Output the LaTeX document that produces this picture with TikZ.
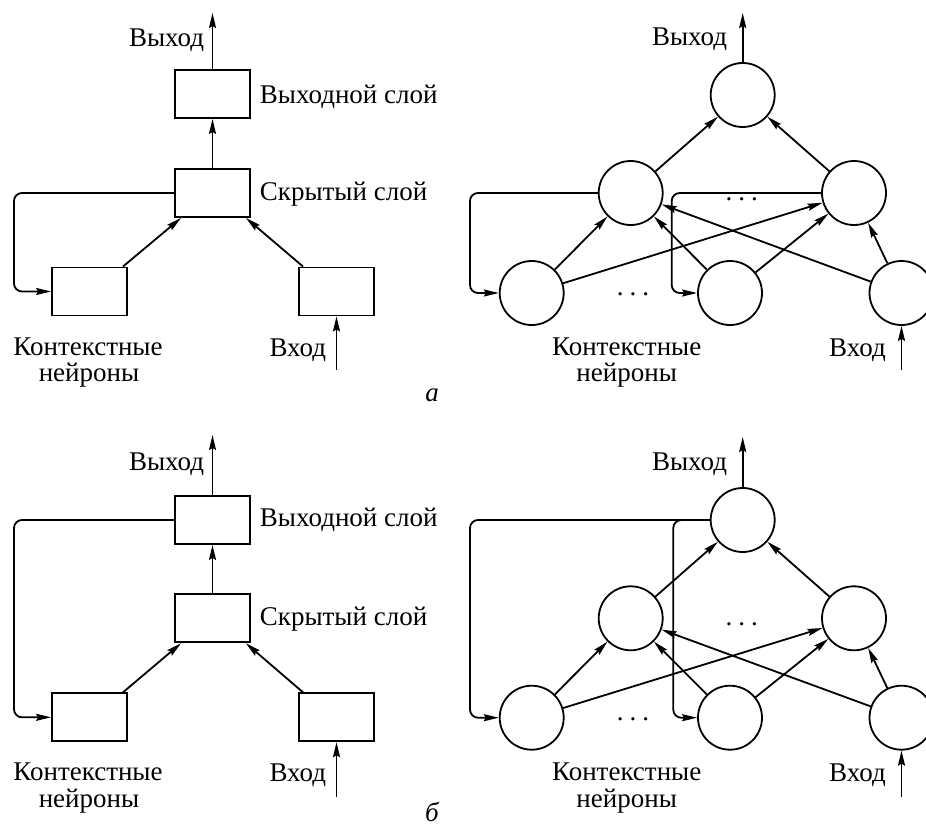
\documentclass[tikz,border=0pt]{standalone}
\usepackage{fontspec}
\setmainfont{Liberation Serif}
\usetikzlibrary{arrows.meta,calc}
\begin{document}
\begin{tikzpicture}[x=1pt,y=-1pt, line width=1.8pt,
  arr/.style={-{Stealth[length=15pt,width=7pt,inset=2pt]}},
  fb/.style={arr, rounded corners=8pt},
  box/.style={draw, minimum width=75pt, minimum height=48pt, inner sep=0pt},
  neu/.style={draw, circle, minimum size=64pt, inner sep=0pt},
  lbl/.style={font=\fontsize{27}{30}\selectfont, inner sep=0pt},
  dotsl/.style={font=\fontsize{27}{30}\selectfont, inner sep=0pt, anchor=base},
  figcap/.style={font=\fontsize{27}{30}\selectfont\itshape, inner sep=0pt, anchor=base}]
\useasboundingbox (0,0) rectangle (926,827);

% ---------- panel a, left ----------
\node[box] (boA) at (212.5,94) {};
\node[box] (bhA) at (212.5,193) {};
\node[box] (bcA) at (89.5,291.5) {};
\node[box] (biA) at (336.5,291.5) {};
\coordinate (oA) at (212.5,13);
\coordinate (iA) at (336.5,370);
\coordinate (fA) at (14,193);
\draw[arr] (boA.north) -- (oA);
\draw[arr] (bhA.north) -- (boA.south);
\draw[arr] ([xshift=-5pt]bcA.north east) -- ([xshift=7pt]bhA.south west);
\draw[arr] ([xshift=5pt]biA.north west) -- ([xshift=-5pt]bhA.south east);
\draw[arr] (iA) -- (biA.south);
\draw[fb] (bhA.west) -| (fA |- bcA.west) -- (bcA.west);
\node[lbl, anchor=base east] (tOutA) at (205,46.7) {Выход};
\node[lbl, anchor=base west] (tLayOA) at (259,103) {Выходной слой};
\node[lbl, anchor=base west] (tLayHA) at (259,200) {Скрытый слой};
\node[lbl, anchor=base east] (tInA) at (327,356) {Вход};
\node[lbl, anchor=base] (tCtxA1) at (88,355) {Контекстные};
\node[lbl, anchor=base] (tCtxA2) at (89,381) {нейроны};
\node[figcap] (capA) at (432,401) {а};

% ---------- panel a, right ----------
\node[neu] (tB) at (742.7,95) {};
\node[neu] (hlB) at (630.7,193) {};
\node[neu] (hrB) at (854,193) {};
\node[neu] (blB) at (531.7,293) {};
\node[neu] (bmB) at (730,293) {};
\node[neu] (brB) at (901.5,293) {};
\coordinate (oB) at (742.7,13);
\coordinate (iB) at (901.5,370);
\coordinate (fB1) at (470,193);
\coordinate (fB2) at (671.7,193);
\draw[arr] (tB) -- (oB);
\draw[arr] (hlB) -- (tB);
\draw[arr] (hrB) -- (tB);
\draw[arr] (blB) -- (hlB);
\draw[arr] (blB) -- (hrB);
\draw[arr] (bmB) -- (hlB);
\draw[arr] (bmB) -- (hrB);
\draw[arr] (brB) -- (hrB);
\draw[arr] (brB) -- (hlB);
\draw[arr] (iB) -- (brB);
\draw[fb] (hlB.west) -| (fB1 |- blB.west) -- (blB.west);
\draw[fb] (hrB.west) -| (fB2 |- bmB.west) -- (bmB.west);
\node[dotsl] (dB1) at (633,295) {.\kern6pt.\kern6pt.};
\node[dotsl] (dB2) at (741.7,200) {.\kern6pt.\kern6pt.};
\node[lbl, anchor=base east] (tOutB) at (728,45) {Выход};
\node[lbl, anchor=base east] (tInB) at (886.7,356) {Вход};
\node[lbl, anchor=base] (tCtxB1) at (626.7,355) {Контекстные};
\node[lbl, anchor=base] (tCtxB2) at (626.7,381) {нейроны};

% ---------- panel b, left ----------
\node[box] (boC) at (212.5,520) {};
\node[box] (bhC) at (212.5,618.3) {};
\node[box] (bcC) at (89.5,717.3) {};
\node[box] (biC) at (336.5,717.3) {};
\coordinate (oC) at (212.5,435);
\coordinate (iC) at (336.5,797);
\coordinate (fC) at (14,520);
\draw[arr] (boC.north) -- (oC);
\draw[arr] (bhC.north) -- (boC.south);
\draw[arr] ([xshift=-5pt]bcC.north east) -- ([xshift=7pt]bhC.south west);
\draw[arr] ([xshift=5pt]biC.north west) -- ([xshift=-5pt]bhC.south east);
\draw[arr] (iC) -- (biC.south);
\draw[fb] (boC.west) -| (fC |- bcC.west) -- (bcC.west);
\node[lbl, anchor=base east] (tOutC) at (205,470) {Выход};
\node[lbl, anchor=base west] (tLayOC) at (259,526.7) {Выходной слой};
\node[lbl, anchor=base west] (tLayHC) at (259,625) {Скрытый слой};
\node[lbl, anchor=base east] (tInC) at (327,781.7) {Вход};
\node[lbl, anchor=base] (tCtxC1) at (88,780.7) {Контекстные};
\node[lbl, anchor=base] (tCtxC2) at (89,807.2) {нейроны};
\node[figcap] (capC) at (432,821) {б};

% ---------- panel b, right ----------
\node[neu] (tD) at (742.7,520) {};
\node[neu] (hlD) at (630.7,618.3) {};
\node[neu] (hrD) at (854,618.3) {};
\node[neu] (blD) at (531.7,717.7) {};
\node[neu] (bmD) at (730,717.7) {};
\node[neu] (brD) at (901.5,717.7) {};
\coordinate (oD) at (742.7,437);
\coordinate (iD) at (901.5,797);
\coordinate (fD1) at (470,520);
\coordinate (fD2) at (673.3,520);
\draw[arr] (tD) -- (oD);
\draw[arr] (hlD) -- (tD);
\draw[arr] (hrD) -- (tD);
\draw[arr] (blD) -- (hlD);
\draw[arr] (blD) -- (hrD);
\draw[arr] (bmD) -- (hlD);
\draw[arr] (bmD) -- (hrD);
\draw[arr] (brD) -- (hrD);
\draw[arr] (brD) -- (hlD);
\draw[arr] (iD) -- (brD);
\draw[fb] (tD.west) -| (fD1 |- blD.west) -- (blD.west);
\draw[fb] (tD.west) -| (fD2 |- bmD.west) -- (bmD.west);
\node[dotsl] (dD1) at (633,720) {.\kern6pt.\kern6pt.};
\node[dotsl] (dD2) at (741.7,625) {.\kern6pt.\kern6pt.};
\node[lbl, anchor=base east] (tOutD) at (728,470) {Выход};
\node[lbl, anchor=base east] (tInD) at (886.7,781.7) {Вход};
\node[lbl, anchor=base] (tCtxD1) at (626.7,780.7) {Контекстные};
\node[lbl, anchor=base] (tCtxD2) at (626.7,807.2) {нейроны};
\end{tikzpicture}
\end{document}
